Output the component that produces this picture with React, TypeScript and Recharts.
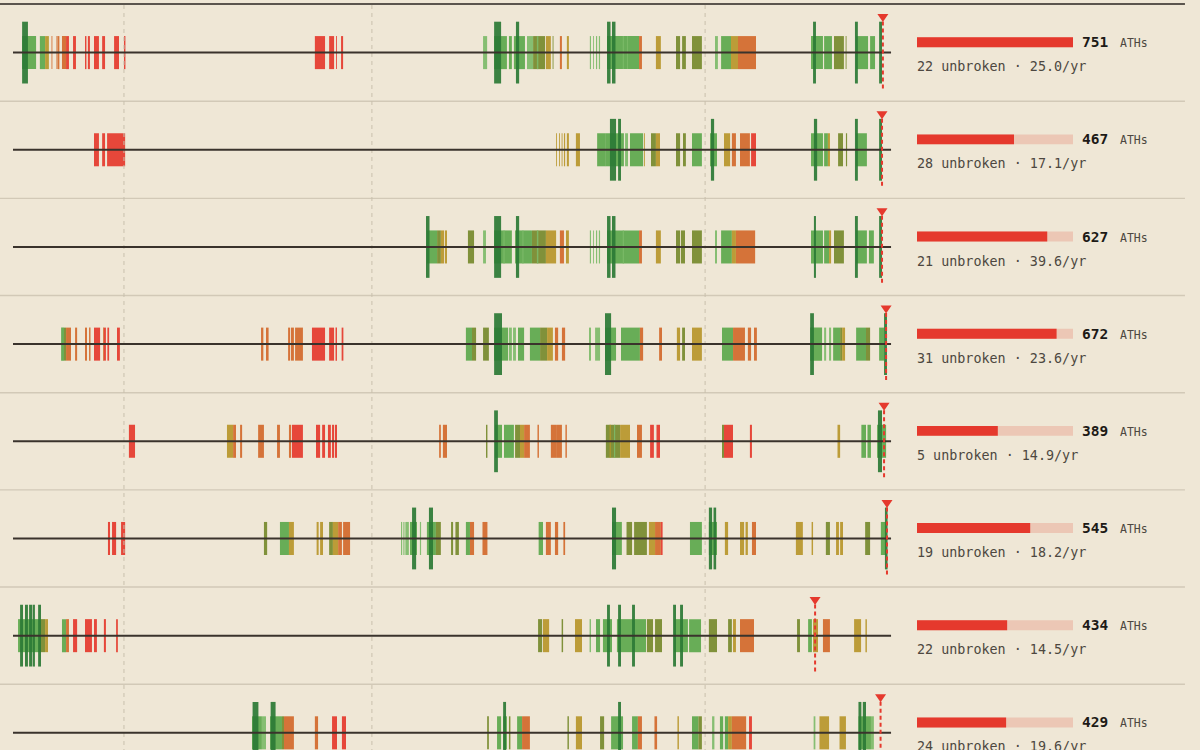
import React from 'react';
import { ComposedChart, XAxis, YAxis, ReferenceArea, ReferenceLine, Scatter } from 'recharts';

// time unit: years since 1996
type Block = [number, number, string];

const row1: Block[] = [[0.76,1.24,'g'],[0.76,0.96,'dg'],[1.37,1.55,'g'],[1.55,1.68,'mu'],[1.77,1.80,'or'],[1.94,1.98,'or'],[1.99,2.04,'or'],[2.13,2.27,'or'],[2.27,2.37,'rd'],[2.51,2.61,'rd'],[2.92,2.97,'rd'],[3.02,3.09,'rd'],[3.23,3.40,'rd'],[3.51,3.61,'rd'],[3.92,4.09,'rd'],[4.26,4.31,'rd'],[10.82,11.17,'rd'],[11.31,11.48,'rd'],[11.55,11.58,'rd'],[11.72,11.79,'rd'],[16.60,16.74,'lg'],[16.98,17.42,'g'],[16.98,17.22,'dg'],[17.49,17.59,'g'],[17.66,18.04,'g'],[17.73,17.84,'dg'],[18.11,18.32,'lg'],[18.32,18.73,'ol'],[18.45,18.50,'lg'],[18.76,18.93,'mu'],[18.99,19.02,'ol'],[19.24,19.31,'or'],[19.48,19.55,'mu'],[20.27,20.31,'lg'],[20.38,20.41,'lg'],[20.48,20.52,'lg'],[20.58,20.62,'lg'],[20.86,21.96,'g'],[21.40,21.44,'lg'],[21.55,21.58,'lg'],[20.86,20.98,'dg'],[21.03,21.15,'dg'],[21.96,22.06,'or'],[22.54,22.71,'mu'],[23.23,23.37,'ol'],[23.44,23.57,'ol'],[23.78,24.12,'ol'],[24.57,24.67,'lg'],[24.78,25.12,'g'],[25.12,25.36,'mu'],[25.36,25.98,'or'],[27.87,28.28,'g'],[27.94,28.04,'dg'],[28.32,28.59,'g'],[28.66,29.00,'ol'],[29.06,29.09,'ol'],[29.42,29.83,'g'],[29.38,29.48,'dg'],[29.90,30.07,'g'],[30.21,30.31,'dg']];

const row2: Block[] = [[3.23,3.40,'rd'],[3.51,3.61,'rd'],[3.68,4.30,'rd'],[19.11,19.14,'mu'],[19.21,19.24,'mu'],[19.30,19.33,'mu'],[19.38,19.42,'mu'],[19.48,19.55,'mu'],[19.79,19.93,'mu'],[20.52,20.82,'g'],[20.82,21.44,'g'],[20.96,21.17,'dg'],[21.24,21.34,'dg'],[21.48,21.58,'lg'],[21.65,22.10,'g'],[22.13,22.16,'mu'],[22.37,22.54,'ol'],[22.54,22.68,'mu'],[23.23,23.37,'ol'],[23.47,23.57,'ol'],[23.78,24.12,'g'],[24.40,24.64,'g'],[24.43,24.54,'dg'],[24.88,25.09,'mu'],[25.15,25.29,'or'],[25.43,25.77,'or'],[25.81,25.98,'rd'],[27.87,28.28,'g'],[27.97,28.08,'dg'],[28.32,28.45,'g'],[28.45,28.52,'mu'],[28.80,28.97,'ol'],[29.07,29.11,'ol'],[29.42,29.79,'g'],[29.38,29.48,'dg'],[30.21,30.31,'dg']];

const row3: Block[] = [[14.67,15.02,'g'],[14.64,14.76,'dg'],[15.02,15.15,'ol'],[15.15,15.26,'mu'],[15.29,15.36,'mu'],[16.08,16.29,'ol'],[16.60,16.70,'lg'],[16.98,17.59,'g'],[17.30,17.34,'lg'],[16.98,17.22,'dg'],[17.70,18.28,'g'],[17.95,17.99,'lg'],[17.73,17.84,'dg'],[18.28,18.76,'ol'],[18.45,18.50,'lg'],[18.76,19.11,'mu'],[19.24,19.38,'or'],[19.45,19.55,'mu'],[20.27,20.31,'lg'],[20.38,20.41,'lg'],[20.48,20.52,'lg'],[20.58,20.62,'lg'],[20.86,21.96,'g'],[21.40,21.44,'lg'],[20.86,20.98,'dg'],[21.03,21.15,'dg'],[21.96,22.06,'or'],[22.54,22.71,'mu'],[23.23,23.37,'ol'],[23.40,23.54,'ol'],[23.78,24.12,'ol'],[24.57,24.64,'lg'],[24.78,25.15,'g'],[25.15,25.29,'mu'],[25.29,25.95,'or'],[27.87,28.28,'g'],[27.97,28.04,'dg'],[28.32,28.49,'g'],[28.49,28.56,'mu'],[28.66,29.00,'ol'],[29.42,29.79,'g'],[29.38,29.48,'dg'],[29.86,30.03,'g'],[30.21,30.31,'dg']];

const row4: Block[] = [[2.10,2.20,'g'],[2.20,2.27,'ol'],[2.27,2.44,'or'],[2.58,2.65,'or'],[2.92,2.99,'or'],[3.06,3.11,'or'],[3.23,3.44,'rd'],[3.54,3.57,'or'],[3.57,3.64,'rd'],[3.69,3.75,'rd'],[4.02,4.12,'rd'],[8.97,9.05,'or'],[9.14,9.23,'or'],[9.90,9.97,'or'],[10.00,10.10,'or'],[10.14,10.41,'or'],[10.72,11.17,'rd'],[11.31,11.48,'rd'],[11.53,11.58,'rd'],[11.74,11.80,'rd'],[16.01,16.22,'g'],[16.22,16.36,'ol'],[16.60,16.80,'ol'],[16.98,17.46,'g'],[16.98,17.25,'dg'],[17.49,17.59,'lg'],[17.63,17.73,'lg'],[17.80,18.01,'g'],[18.21,18.56,'g'],[18.56,18.80,'ol'],[18.80,19.00,'mu'],[19.07,19.18,'or'],[19.31,19.42,'or'],[20.24,20.31,'lg'],[20.45,20.62,'lg'],[20.79,21.17,'g'],[20.79,21.00,'dg'],[21.34,21.99,'g'],[21.99,22.10,'or'],[22.65,22.75,'or'],[23.26,23.37,'mu'],[23.44,23.54,'ol'],[23.78,24.12,'mu'],[24.81,25.19,'g'],[25.19,25.60,'or'],[25.70,25.81,'or'],[25.91,26.01,'or'],[27.84,28.25,'g'],[27.84,27.97,'dg'],[28.32,28.39,'lg'],[28.49,28.56,'lg'],[28.63,28.87,'g'],[28.87,28.94,'ol'],[28.94,29.04,'mu'],[29.42,29.76,'g'],[29.76,29.90,'ol'],[30.21,30.38,'g'],[30.38,30.48,'dg']];

const row5: Block[] = [[4.43,4.64,'rd'],[7.80,8.01,'mu'],[8.01,8.11,'or'],[8.25,8.32,'or'],[8.87,9.07,'or'],[9.52,9.62,'or'],[9.93,10.00,'or'],[10.03,10.41,'rd'],[10.86,11.00,'rd'],[11.07,11.17,'rd'],[11.27,11.37,'rd'],[11.41,11.48,'rd'],[11.51,11.58,'rd'],[15.09,15.15,'or'],[15.22,15.36,'or'],[16.70,16.75,'ol'],[17.01,17.25,'g'],[16.98,17.11,'dg'],[17.32,17.66,'g'],[17.70,17.87,'ol'],[17.87,18.01,'mu'],[18.01,18.21,'or'],[18.47,18.52,'or'],[18.93,19.11,'or'],[19.11,19.31,'or'],[19.43,19.48,'or'],[20.82,21.31,'ol'],[20.95,20.99,'mu'],[21.10,21.14,'lg'],[21.31,21.65,'mu'],[21.89,22.06,'or'],[22.34,22.47,'rd'],[22.56,22.68,'rd'],[24.81,24.88,'ol'],[24.88,25.19,'rd'],[25.77,25.84,'rd'],[28.78,28.87,'mu'],[29.60,29.76,'g'],[29.81,29.93,'g'],[30.14,30.45,'g'],[30.17,30.31,'dg']];

const row6: Block[] = [[3.71,3.78,'rd'],[3.85,3.99,'rd'],[4.16,4.30,'rd'],[9.07,9.18,'ol'],[9.62,9.93,'g'],[9.93,10.10,'mu'],[10.88,10.95,'mu'],[11.00,11.10,'mu'],[11.31,11.44,'ol'],[11.44,11.62,'mu'],[11.62,11.75,'or'],[11.79,12.03,'or'],[13.78,13.82,'lg'],[13.86,13.90,'lg'],[13.93,14.05,'lg'],[14.09,14.33,'g'],[14.16,14.30,'dg'],[14.43,14.47,'lg'],[14.67,14.98,'g'],[14.74,14.88,'dg'],[14.98,15.15,'ol'],[15.50,15.57,'ol'],[15.65,15.77,'ol'],[16.01,16.15,'g'],[16.15,16.29,'or'],[16.58,16.75,'or'],[18.51,18.66,'g'],[18.76,18.93,'or'],[19.07,19.18,'or'],[19.36,19.42,'or'],[21.03,21.37,'g'],[21.03,21.17,'dg'],[21.53,21.72,'ol'],[21.79,22.23,'ol'],[22.30,22.51,'mu'],[22.51,22.71,'or'],[22.71,22.77,'rd'],[23.71,24.12,'g'],[24.36,24.64,'g'],[24.36,24.47,'dg'],[24.52,24.61,'dg'],[24.91,25.02,'mu'],[25.43,25.57,'mu'],[25.62,25.70,'mu'],[25.84,25.98,'or'],[27.35,27.59,'mu'],[27.89,27.94,'mu'],[28.38,28.52,'ol'],[28.73,28.83,'mu'],[28.87,28.97,'mu'],[29.73,29.90,'ol'],[30.27,30.45,'g'],[30.41,30.50,'dg']];

const row7: Block[] = [[0.62,1.37,'g'],[0.69,0.79,'dg'],[0.86,0.96,'dg'],[1.00,1.10,'dg'],[1.12,1.20,'dg'],[1.31,1.41,'dg'],[1.37,1.55,'ol'],[1.55,1.65,'mu'],[2.13,2.27,'g'],[2.27,2.37,'or'],[2.51,2.65,'rd'],[2.92,3.16,'rd'],[3.23,3.33,'rd'],[3.57,3.64,'rd'],[3.99,4.05,'rd'],[18.49,18.63,'ol'],[18.66,18.87,'mu'],[19.30,19.35,'ol'],[19.76,20.00,'mu'],[20.26,20.31,'lg'],[20.48,20.62,'g'],[20.72,21.03,'g'],[20.86,20.96,'dg'],[21.20,21.65,'g'],[21.24,21.34,'dg'],[21.65,22.20,'g'],[21.72,21.82,'dg'],[22.23,22.44,'ol'],[22.51,22.75,'ol'],[23.16,23.64,'g'],[23.13,23.23,'dg'],[23.37,23.47,'dg'],[23.68,24.09,'g'],[24.36,24.64,'ol'],[25.02,25.15,'ol'],[25.19,25.29,'mu'],[25.43,25.91,'or'],[27.39,27.49,'ol'],[27.77,27.90,'g'],[27.94,28.11,'mu'],[28.28,28.52,'or'],[29.35,29.59,'mu'],[29.74,29.79,'mu']];

const row8: Block[] = [[8.66,9.00,'g'],[8.68,8.88,'dg'],[9.00,9.14,'lg'],[9.28,9.69,'g'],[9.30,9.47,'dg'],[9.69,9.76,'ol'],[9.76,10.10,'or'],[10.82,10.93,'or'],[11.41,11.58,'rd'],[11.75,11.89,'rd'],[16.74,16.80,'ol'],[17.08,17.22,'g'],[17.29,17.42,'g'],[17.29,17.39,'dg'],[17.49,17.54,'ol'],[17.77,17.94,'g'],[17.94,18.21,'or'],[19.50,19.55,'ol'],[19.79,20.00,'mu'],[20.62,20.76,'ol'],[21.00,21.41,'g'],[21.24,21.34,'dg'],[21.72,21.92,'g'],[21.92,22.06,'or'],[22.49,22.58,'or'],[23.28,23.33,'mu'],[23.78,24.00,'g'],[24.00,24.12,'ol'],[24.47,24.55,'lg'],[24.74,24.85,'g'],[24.91,25.02,'g'],[25.02,25.15,'mu'],[25.15,25.64,'or'],[25.74,25.84,'rd'],[27.96,28.02,'lg'],[28.16,28.49,'mu'],[28.85,29.07,'mu'],[29.50,29.93,'g'],[29.50,29.60,'dg'],[29.65,29.76,'dg'],[29.93,30.03,'lg']];

const lastATH = [30.34, 30.31, 30.31, 30.45, 30.38, 30.48, 28.01, 30.26];
const athCounts = [751, 467, 627, 672, 389, 545, 434, 429];
const unbroken = [22, 28, 21, 31, 5, 19, 22, 24];
const perYear = [25.0, 17.1, 39.6, 23.6, 14.9, 18.2, 14.5, 19.6];
const crisisMarks = [4.26, 12.78, 24.23];

const rows = [row1, row2, row3, row4, row5, row6, row7, row8];

const T_DOMAIN: [number, number] = [0, 41.237];
const LINE_START = 0.447;
const LINE_END = 30.62;
const SEP_END = 40.72;
const MAX_COUNT = 751;
const N_DOMAIN: [number, number] = [-4414.6, 1362.4];
const Y_DOMAIN: [number, number] = [-0.5413, 7.1768];

const COLORS: Record<string, string> = {
  dg: '#2b7a35',
  g: '#5ca84c',
  lg: '#7dbb69',
  ol: '#768a2d',
  mu: '#b7962a',
  or: '#d2692b',
  rd: '#e5392d',
};
const RED = '#e5392d';
const TRACK = '#ecc7b5';
const MONO = "'DejaVu Sans Mono', 'Liberation Mono', monospace";

const REG_H = 0.17;
const TALL_H = 0.318;
const TRI_OFFSET = -0.356;

const chartData = lastATH.map((t, i) => ({ t, row: i + TRI_OFFSET, count: athCounts[i] }));

const Triangle = (p: any) => {
  const { cx, cy } = p;
  if (cx == null || cy == null) return null;
  return <path d={`M${cx - 5.5},${cy - 4} L${cx + 5.5},${cy - 4} L${cx},${cy + 4} Z`} fill={RED} />;
};

export default function App() {
  const els: React.ReactNode[] = [];

  for (let i = 0; i < rows.length; i++) {
    els.push(
      <ReferenceLine key={`sep${i}`} xAxisId="t" yAxisId="r" ifOverflow="visible"
        segment={[{ x: 0, y: i + 0.5 }, { x: SEP_END, y: i + 0.5 }]}
        stroke="#d2c9b7" strokeWidth={1.4} />
    );
  }
  els.push(
    <ReferenceLine key="top" xAxisId="t" yAxisId="r" ifOverflow="visible"
      segment={[{ x: 0, y: -0.5 }, { x: SEP_END, y: -0.5 }]}
      stroke="#2a2520" strokeWidth={1.5} />
  );
  crisisMarks.forEach((c, k) => {
    els.push(
      <ReferenceLine key={`cr${k}`} xAxisId="t" yAxisId="r" ifOverflow="visible"
        segment={[{ x: c, y: -0.49 }, { x: c, y: 7.18 }]}
        stroke="#c9c0ad" strokeWidth={1} strokeDasharray="4 4" />
    );
  });

  rows.forEach((blocks, i) => {
    els.push(
      <ReferenceLine key={`base${i}`} xAxisId="t" yAxisId="r" ifOverflow="visible"
        segment={[{ x: LINE_START, y: i }, { x: LINE_END, y: i }]}
        stroke="#3a332c" strokeWidth={2} />
    );
    const regular = blocks.filter((b) => b[2] !== 'dg');
    const tall = blocks.filter((b) => b[2] === 'dg');
    [...regular, ...tall].forEach((b, j) => {
      const h = b[2] === 'dg' ? TALL_H : REG_H;
      els.push(
        <ReferenceArea key={`b${i}-${j}`} xAxisId="t" yAxisId="r" ifOverflow="visible"
          x1={b[0]} x2={b[1]} y1={i - h} y2={i + h}
          fill={COLORS[b[2]]} fillOpacity={0.92} stroke="none" />
      );
    });
    els.push(
      <ReferenceLine key={`last${i}`} xAxisId="t" yAxisId="r" ifOverflow="visible"
        segment={[{ x: lastATH[i], y: i - 0.32 }, { x: lastATH[i], y: i + 0.385 }]}
        stroke={RED} strokeWidth={2} strokeDasharray="4 3" />
    );
    const count = athCounts[i];
    els.push(
      <ReferenceArea key={`track${i}`} xAxisId="n" yAxisId="r" ifOverflow="visible"
        x1={0} x2={MAX_COUNT} y1={i - 0.158} y2={i - 0.056}
        fill={TRACK} fillOpacity={1} stroke="none"
        label={(lp: any) => {
          const vb = lp.viewBox || {};
          const right = vb.x + vb.width;
          const bottom = vb.y + vb.height;
          return (
            <g>
              <text x={right + 9} y={bottom} fontFamily={MONO} fontWeight="bold" fontSize={14.5} fill="#1d1a16">{count}</text>
              <text x={right + 47} y={bottom} fontFamily={MONO} fontSize={11.5} fill="#4d4740">ATHs</text>
              <text x={vb.x} y={bottom + 24} fontFamily={MONO} fontSize={13.4} fill="#4d4740">
                {`${unbroken[i]} unbroken · ${perYear[i].toFixed(1)}/yr`}
              </text>
            </g>
          );
        }} />
    );
    els.push(
      <ReferenceArea key={`cnt${i}`} xAxisId="n" yAxisId="r" ifOverflow="visible"
        x1={0} x2={count} y1={i - 0.158} y2={i - 0.056}
        fill={RED} fillOpacity={1} stroke="none" />
    );
  });

  return (
    <div style={{ position: 'absolute', left: 0, top: 0, width: 1200, height: 750, background: '#efe7d6', overflow: 'hidden' }}>
      <ComposedChart width={1200} height={750} data={chartData} margin={{ top: 0, right: 0, bottom: 0, left: 0 }}>
        <XAxis xAxisId="t" type="number" dataKey="t" domain={T_DOMAIN} hide allowDataOverflow />
        <XAxis xAxisId="n" type="number" dataKey="count" domain={N_DOMAIN} hide allowDataOverflow />
        <YAxis yAxisId="r" type="number" dataKey="row" domain={Y_DOMAIN} reversed hide allowDataOverflow />
        {els}
        <Scatter xAxisId="t" yAxisId="r" dataKey="row" data={chartData} shape={Triangle} isAnimationActive={false} />
      </ComposedChart>
    </div>
  );
}
